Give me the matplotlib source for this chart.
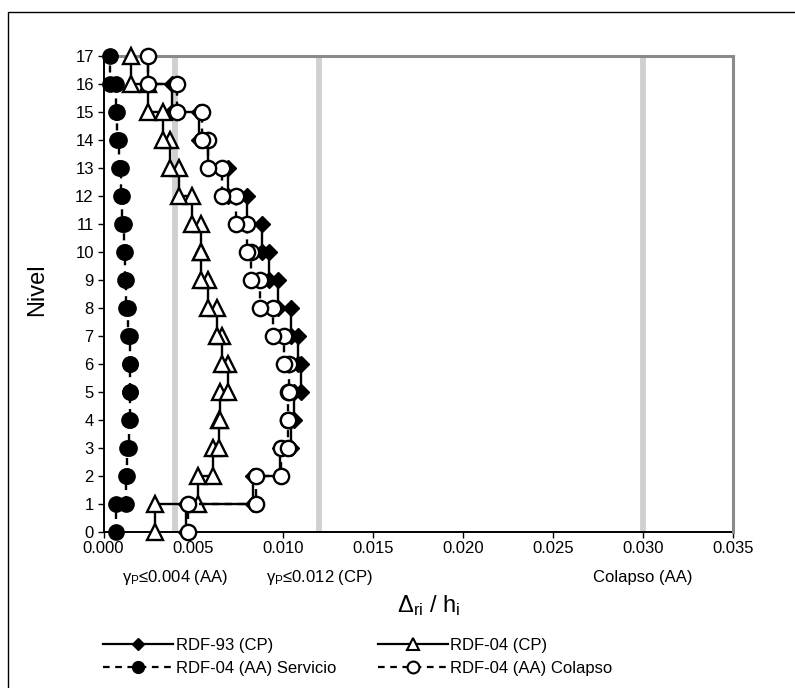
import numpy as np
import matplotlib
matplotlib.use("Agg")
import matplotlib.pyplot as plt
from matplotlib.lines import Line2D
from matplotlib.patches import Rectangle
import matplotlib.transforms as mtransforms

plt.rcParams['font.family'] = ['Liberation Sans', 'DejaVu Sans']
plt.rcParams['mathtext.fontset'] = 'custom'
plt.rcParams['mathtext.rm'] = 'Liberation Sans'
plt.rcParams['mathtext.it'] = 'Liberation Sans'

# ---- data: interstory drift per story (stories 1..17) ----
stories = list(range(1, 18))
rdf93_cp = [0.00457, 0.0083, 0.0098, 0.0104, 0.0106, 0.0110, 0.0108, 0.0104, 0.0097,
            0.0092, 0.0088, 0.0080, 0.0069, 0.0058, 0.0053, 0.0038, 0.0025]
rdf04_cp = [0.00286, 0.00527, 0.00608, 0.00642, 0.00648, 0.0069, 0.0066, 0.0063, 0.00583,
            0.00542, 0.00542, 0.00494, 0.00418, 0.00367, 0.00333, 0.00245, 0.00151]
rdf04_serv = [0.00068, 0.00123, 0.0013, 0.0014, 0.0015, 0.0015, 0.00145, 0.00135, 0.00125,
              0.00118, 0.00112, 0.00105, 0.00095, 0.00085, 0.00075, 0.0007, 0.00035]
rdf04_col = [0.00468, 0.0085, 0.00985, 0.01025, 0.01028, 0.0103, 0.01005, 0.0094, 0.0087,
             0.0082, 0.00796, 0.00735, 0.0066, 0.0058, 0.0055, 0.0041, 0.00249]
limits = [0.004, 0.012, 0.030]
limit_labels = [r'$\gamma_{\mathrm{P}}$≤0.004 (AA)', r'$\gamma_{\mathrm{P}}$≤0.012 (CP)', 'Colapso (AA)']
x_ticks = [0.000, 0.005, 0.010, 0.015, 0.020, 0.025, 0.030, 0.035]
y_ticks = list(range(0, 18))


def step_xy(vals):
    x = np.repeat(vals, 2)
    y = np.ravel([[s - 1, s] for s in stories])
    return x, y


W, H = 795, 688
fig = plt.figure(figsize=(W / 100, H / 100), dpi=100)
ax = fig.add_axes([103.5 / W, 1 - 531.7 / H, (733 - 103.5) / W, (531.7 - 55.7) / H])

# outer chart frame
fig.patches.append(Rectangle((8 / W, -0.05), 1.2, 1 - 12 / H + 0.05, transform=fig.transFigure,
                             fill=False, edgecolor='black', linewidth=1.0))

for lv in limits:
    ax.axvline(lv, color='#d0d0d0', lw=4.2, zorder=1)

dash = (0, (3, 2.5))
x, y = step_xy(rdf93_cp)
ax.plot(x, y, color='black', lw=1.7, marker='D', ms=8.5, mfc='black', mec='black', mew=1,
        clip_on=False, zorder=3)
x, y = step_xy(rdf04_cp)
ax.plot(x, y, color='black', lw=1.7, marker='^', ms=12, mfc='white', mec='black', mew=1.7,
        clip_on=False, zorder=4)
x, y = step_xy(rdf04_serv)
ax.plot(x, y, color='black', lw=1.7, ls=dash, marker='o', ms=11, mfc='black', mec='black', mew=1,
        clip_on=False, zorder=5)
x, y = step_xy(rdf04_col)
ax.plot(x, y, color='black', lw=1.7, ls=dash, marker='o', ms=11, mfc='white', mec='black', mew=1.7,
        clip_on=False, zorder=6)

ax.set_xlim(0, 0.035)
ax.set_ylim(0, 17)
ax.set_xticks(x_ticks)
ax.set_xticklabels([f'{t:.3f}' for t in x_ticks])
ax.set_yticks(y_ticks)
ax.tick_params(direction='out', length=4, width=1, labelsize=12, pad=3)
for s in ['left', 'bottom']:
    ax.spines[s].set_color('black')
    ax.spines[s].set_linewidth(1.4)
    ax.spines[s].set_zorder(2)
for s in ['top', 'right']:
    ax.spines[s].set_color('#8a8a8a')
    ax.spines[s].set_linewidth(2.2)

trans = mtransforms.blended_transform_factory(ax.transData, ax.transAxes)
for lv, lab in zip(limits, limit_labels):
    ax.text(lv, -0.097, lab, transform=trans, ha='center', va='center', fontsize=12)

fig.text(429 / W, 1 - 606 / H, r'$\Delta_{\mathrm{ri}}$ / h$_{\mathrm{i}}$', ha='center', va='center',
         fontsize=17)
fig.text(37 / W, 1 - 290 / H, 'Nivel', rotation=90, ha='center', va='center', fontsize=17)

h93 = Line2D([], [], color='black', lw=1.6, marker='D', ms=6.5, mfc='black', mec='black')
h04 = Line2D([], [], color='black', lw=1.6, marker='^', ms=9, mfc='white', mec='black', mew=1.5)
hsv = Line2D([], [], color='black', lw=1.6, ls=dash, marker='o', ms=8.5, mfc='black', mec='black')
hcl = Line2D([], [], color='black', lw=1.6, ls=dash, marker='o', ms=8.5, mfc='white', mec='black', mew=1.5)
fig.legend([h93, hsv, h04, hcl],
           ['RDF-93 (CP)', 'RDF-04 (AA) Servicio', 'RDF-04 (CP)', 'RDF-04 (AA) Colapso'],
           ncol=2, loc='upper left', bbox_to_anchor=(103 / W, 1 - 638 / H), frameon=False,
           fontsize=12, handlelength=4.2, handletextpad=0.15, columnspacing=2.5,
           labelspacing=0.45, borderpad=0, borderaxespad=0)

fig.savefig('out.png', dpi=100)
